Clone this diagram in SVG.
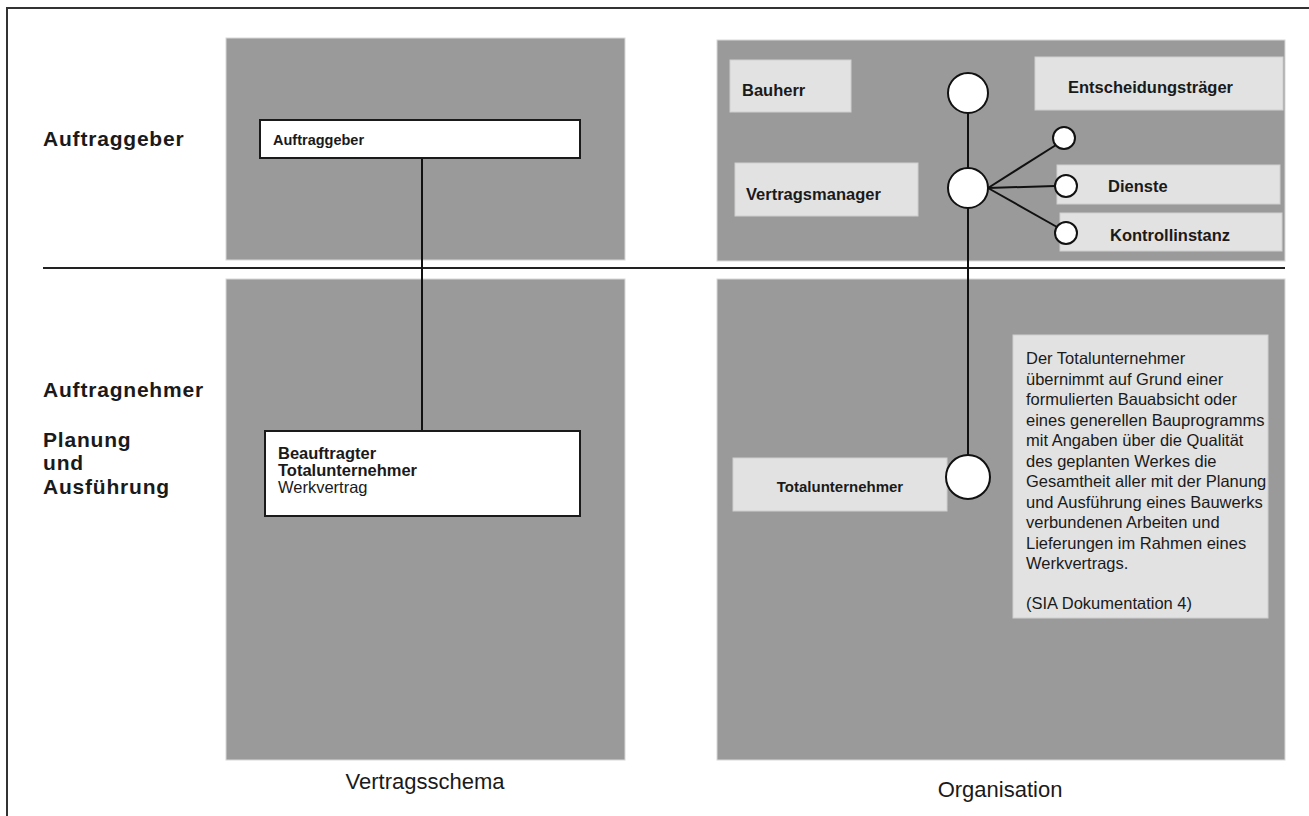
<svg xmlns="http://www.w3.org/2000/svg" width="1309" height="816" viewBox="0 0 1309 816">
<style>
.panel{fill:#9a9a9a;stroke:#d8d8d8;stroke-width:1}
.wbox{fill:#ffffff;stroke:#1a1a1a;stroke-width:2}
.lbox{fill:#e2e2e2;stroke:#cfcfcf;stroke-width:1}
.b{font-family:"Liberation Sans",Arial,sans-serif;font-weight:bold;fill:#1a1a1a}
.r{font-family:"Liberation Sans",Arial,sans-serif;fill:#1a1a1a}
.lab{letter-spacing:0.8px}
.ln{stroke:#111;stroke-width:2;fill:none}
.c{fill:#ffffff;stroke:#111;stroke-width:2}
</style>
<rect x="0" y="0" width="1309" height="816" fill="#ffffff"/>
<path d="M7,816 V8 H1309" fill="none" stroke="#333" stroke-width="2"/>
<g id="panels">
<rect class="panel" x="226" y="38" width="399" height="222"/>
<rect class="panel" x="226" y="279" width="399" height="481"/>
<rect class="panel" x="717" y="40" width="568" height="221"/>
<rect class="panel" x="717" y="279" width="568" height="481"/>
</g>
<line x1="43" y1="268" x2="1285" y2="268" stroke="#222" stroke-width="2"/>
<g id="row-labels">
<text class="b lab" x="43" y="146" font-size="21">Auftraggeber</text>
<text class="b lab" x="43" y="397" font-size="21">Auftragnehmer</text>
<text class="b lab" x="43" y="447" font-size="21">Planung</text>
<text class="b lab" x="43" y="470" font-size="21">und</text>
<text class="b lab" x="43" y="494" font-size="21">Ausführung</text>
</g>
<g id="connectors">
<line class="ln" x1="422" y1="158" x2="422" y2="431"/>
<line class="ln" x1="968" y1="113" x2="968" y2="168"/>
<line class="ln" x1="968" y1="208" x2="968" y2="455"/>
<line class="ln" x1="988" y1="188" x2="1056" y2="145"/>
<line class="ln" x1="988" y1="188" x2="1055" y2="186"/>
<line class="ln" x1="988" y1="188" x2="1057" y2="227"/>
</g>
<g id="auftraggeber">
<rect class="wbox" x="260" y="120" width="320" height="38"/>
<text class="b" x="273" y="145" font-size="14.5">Auftraggeber</text>
</g>
<g id="beauftragter">
<rect class="wbox" x="265" y="431" width="315" height="85"/>
<text class="b" x="278" y="459" font-size="16.5">Beauftragter</text>
<text class="b" x="278" y="476" font-size="16.5">Totalunternehmer</text>
<text class="r" x="278" y="493" font-size="16.5">Werkvertrag</text>
</g>
<g id="bauherr">
<rect class="lbox" x="730" y="60" width="121" height="52"/>
<text class="b" x="742" y="96" font-size="16.5">Bauherr</text>
</g>
<g id="entscheidungstraeger">
<rect class="lbox" x="1035" y="57" width="248" height="53"/>
<text class="b" x="1068" y="93" font-size="16.5">Entscheidungsträger</text>
</g>
<g id="vertragsmanager">
<rect class="lbox" x="735" y="163" width="183" height="53"/>
<text class="b" x="746" y="200" font-size="16.5">Vertragsmanager</text>
</g>
<g id="dienste">
<rect class="lbox" x="1057" y="165" width="223" height="39"/>
<text class="b" x="1108" y="192" font-size="16.5">Dienste</text>
</g>
<g id="kontrollinstanz">
<rect class="lbox" x="1060" y="213" width="222" height="38"/>
<text class="b" x="1110" y="241" font-size="16.5">Kontrollinstanz</text>
</g>
<g id="totalunternehmer">
<rect class="lbox" x="733" y="458" width="214" height="53"/>
<text class="b" x="840" y="492" font-size="15" text-anchor="middle">Totalunternehmer</text>
</g>
<g id="circles">
<circle class="c" cx="968" cy="93" r="20"/>
<circle class="c" cx="968" cy="188" r="20"/>
<circle class="c" cx="968" cy="477" r="22"/>
<circle class="c" cx="1064" cy="138" r="11"/>
<circle class="c" cx="1066" cy="186" r="11"/>
<circle class="c" cx="1066" cy="233" r="11"/>
</g>
<g id="definition">
<rect class="lbox" x="1013" y="335" width="255" height="283"/>
<text class="r" font-size="16.5">
<tspan x="1026" y="364">Der Totalunternehmer</tspan>
<tspan x="1026" y="384.5">übernimmt auf Grund einer</tspan>
<tspan x="1026" y="405">formulierten Bauabsicht oder</tspan>
<tspan x="1026" y="425.5">eines generellen Bauprogramms</tspan>
<tspan x="1026" y="446">mit Angaben über die Qualität</tspan>
<tspan x="1026" y="466.5">des geplanten Werkes die</tspan>
<tspan x="1026" y="487">Gesamtheit aller mit der Planung</tspan>
<tspan x="1026" y="507.5">und Ausführung eines Bauwerks</tspan>
<tspan x="1026" y="528">verbundenen Arbeiten und</tspan>
<tspan x="1026" y="548.5">Lieferungen im Rahmen eines</tspan>
<tspan x="1026" y="569">Werkvertrags.</tspan>
<tspan x="1026" y="609">(SIA Dokumentation 4)</tspan>
</text>
</g>
<g id="captions">
<text class="r" x="425" y="789" font-size="22" text-anchor="middle">Vertragsschema</text>
<text class="r" x="1000" y="797" font-size="22" text-anchor="middle">Organisation</text>
</g>
</svg>
